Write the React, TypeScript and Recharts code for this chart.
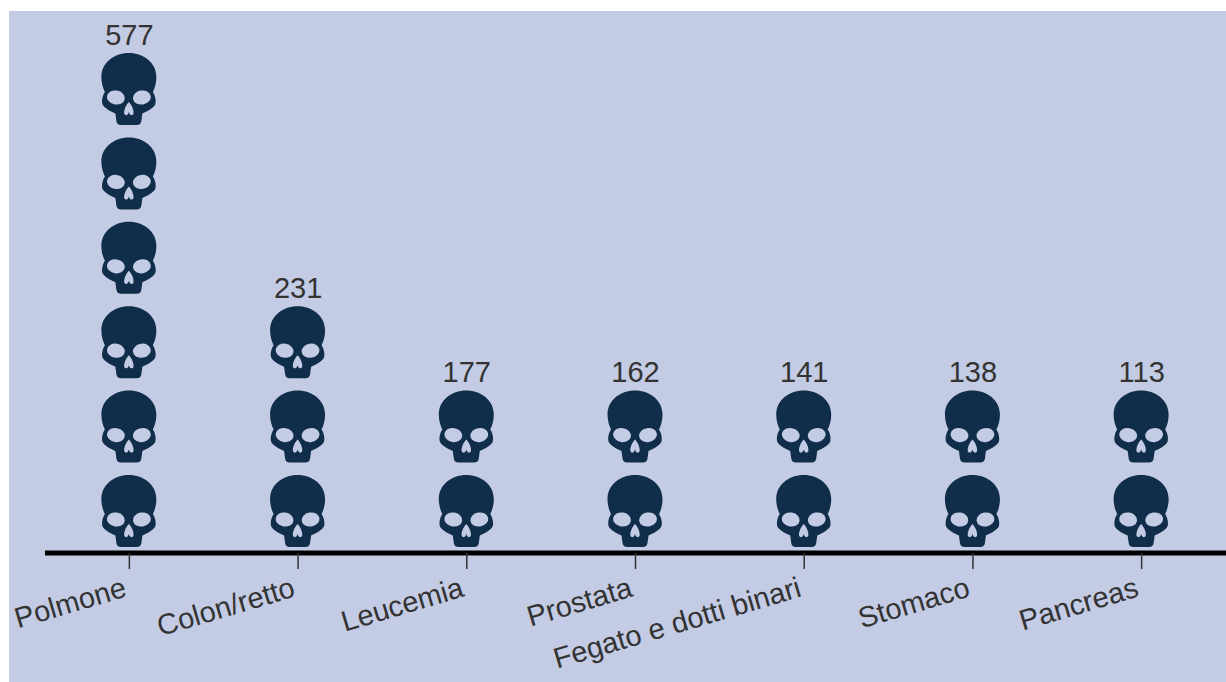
import { Bar, BarChart, LabelList, XAxis, YAxis } from "recharts";

const sites = ["Polmone", "Colon/retto", "Leucemia", "Prostata", "Fegato e dotti binari", "Stomaco", "Pancreas"];
const deaths = [577, 231, 177, 162, 141, 138, 113];
const skulls = [6, 3, 2, 2, 2, 2, 2];

const data = sites.map((site, i) => ({ site, deaths: deaths[i], skulls: skulls[i] }));

const BG = "#c3cce4";
const SKULL = "#102e4a";
const TEXT = "#333333";
const FONT = "'Liberation Sans', Arial, sans-serif";

const SKULL_PATH =
  "M0 0 C15 0 27.5 10 27.5 24 C27.5 30 26 35 24 39 C26 42 27.5 47 26.5 51 C25 55 19 58 13.5 60.5 L12.5 68 C12 71 10 72 8 72 L-8 72 C-10 72 -12 71 -12.5 68 L-13.5 60.5 C-19 58 -25 55 -26.5 51 C-27.5 47 -26 42 -24 39 C-26 35 -27.5 30 -27.5 24 C-27.5 10 -15 0 0 0 Z";
const NOSE_PATH = "M0 49 C-3 52 -5.5 58 -4.5 61 C-3.5 63 -1 62.5 0 59 C1 62.5 3.5 63 4.5 61 C5.5 58 3 52 0 49 Z";

function Skull({ cx, top }: { cx: number; top: number }) {
  return (
    <g transform={`translate(${cx - 0.5},${top})`}>
      <path d={SKULL_PATH} fill={SKULL} />
      <ellipse cx={-13} cy={44.5} rx={9} ry={7} fill={BG} transform="rotate(10 -13 44.5)" />
      <ellipse cx={13} cy={44.5} rx={9} ry={7} fill={BG} transform="rotate(-10 13 44.5)" />
      <path d={NOSE_PATH} fill={BG} />
    </g>
  );
}

function SkullStack(props: any) {
  const { x, y, width, height, payload } = props;
  const unit = height / payload.skulls;
  const bottom = y + height;
  return (
    <g>
      {Array.from({ length: payload.skulls }, (_, k) => (
        <Skull key={k} cx={x + width / 2} top={bottom - k * unit - 78} />
      ))}
    </g>
  );
}

function SiteTick({ x, y, payload }: any) {
  return (
    <text
      transform={`translate(${x - 1.5},${y + 27}) rotate(-16.5)`}
      textAnchor="end"
      fontSize={29}
      fontFamily={FONT}
      fill={TEXT}
    >
      {payload.value}
    </text>
  );
}

export default function App() {
  return (
    <div style={{ position: "absolute", left: 9, top: 11, width: 1217, height: 671, background: BG }}>
      <BarChart
        width={1217}
        height={671}
        data={data}
        margin={{ top: 35.6, right: 0, bottom: 0, left: 36 }}
      >
        <XAxis
          dataKey="site"
          axisLine={{ stroke: "#000000", strokeWidth: 5 }}
          tickLine={{ stroke: TEXT, strokeWidth: 1.5 }}
          tickSize={16}
          tickMargin={0}
          interval={0}
          height={129}
          tick={<SiteTick />}
        />
        <YAxis hide domain={[0, 6]} />
        <Bar dataKey="skulls" shape={<SkullStack />} isAnimationActive={false}>
          <LabelList
            dataKey="deaths"
            position="top"
            offset={2}
            fontSize={29}
            fontFamily={FONT}
            fill={TEXT}
          />
        </Bar>
      </BarChart>
    </div>
  );
}
